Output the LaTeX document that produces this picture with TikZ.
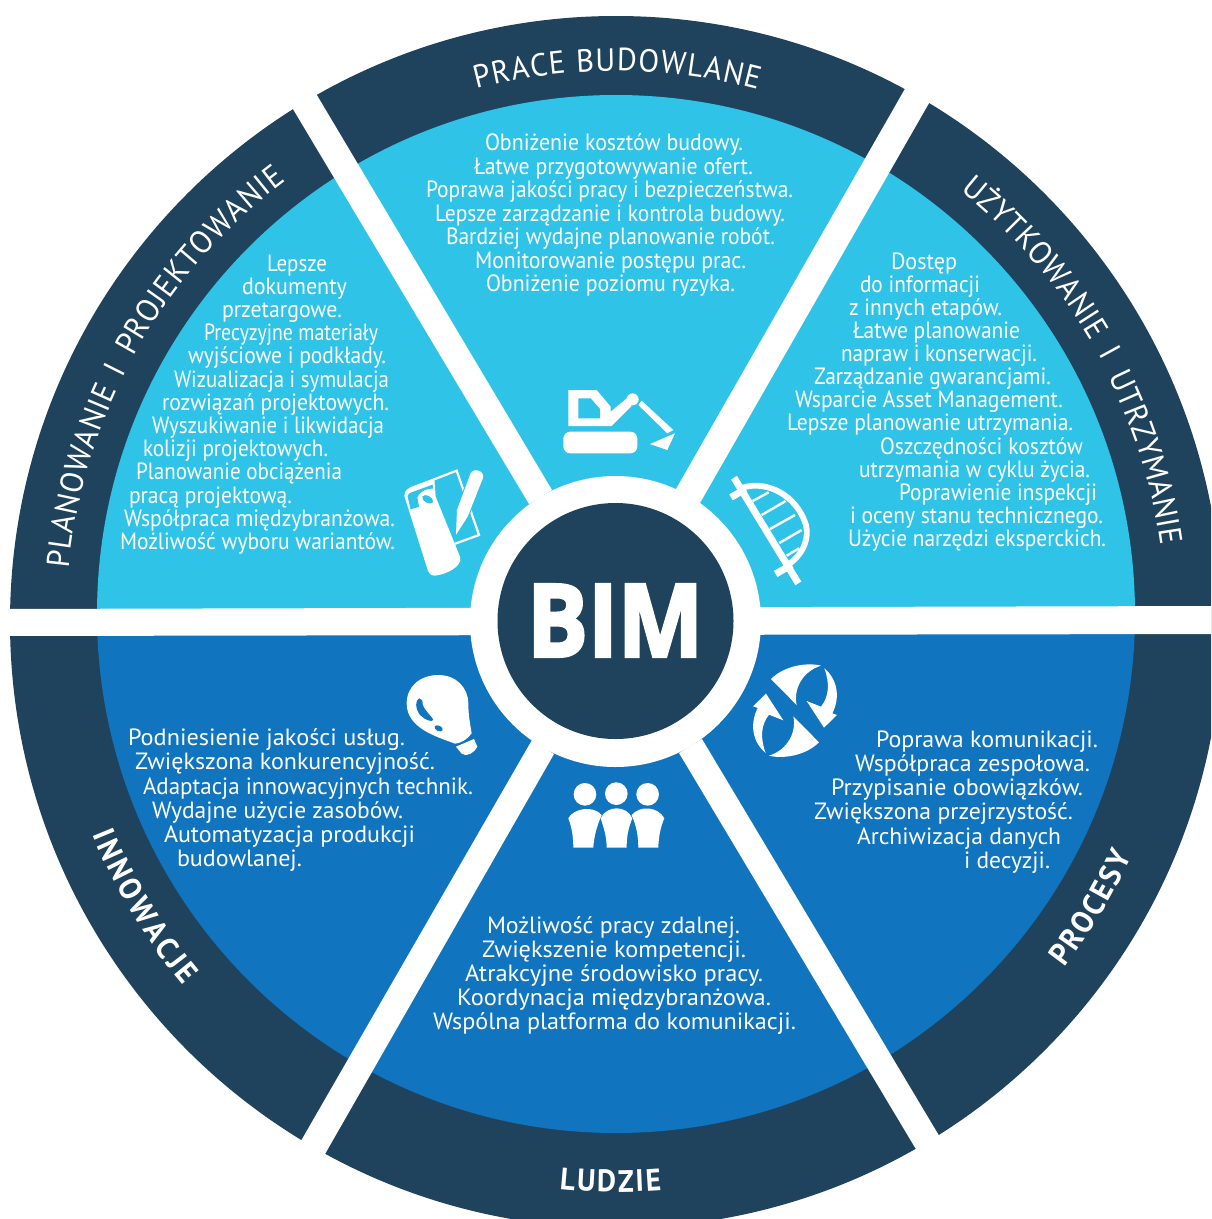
\documentclass[tikz,border=0pt]{standalone}
\usepackage{graphicx}
\usepackage{fontspec}
\setmainfont{PT Sans}
\newfontfamily\headfont[FakeStretch=0.95]{PT Sans}
\newfontfamily\bimfont[BoldFeatures={FakeBold=3}]{Open Sans}
\usetikzlibrary{decorations.text}
\definecolor{ringdark}{HTML}{1F435D}
\definecolor{skyblue}{HTML}{2FC3E8}
\definecolor{midblue}{HTML}{1075BE}
\newcommand\txtline[5]{\node[blocktext] (#1) at (#2,#4) {\resizebox{\dimexpr #3pt-#2pt\relax}{\height}{#5}};}
\newcommand\headarc[5]{\path[decorate,decoration={text along path,text={|#5|#4},text align=fit to path}] (#1:#3) arc[start angle=#1,end angle=#2,radius=#3];}
\newcommand\hreg{\fontsize{32}{36}\headfont\selectfont}
\newcommand\hbld{\fontsize{31}{34}\headfont\bfseries\selectfont}
\tikzset{
  blocktext/.style={anchor=base west,inner sep=0pt,outer sep=0pt,text=white,font=\fontsize{23.5}{25}\selectfont},
  iconframe/.style={shift={(#1)},x=0.3333pt,y=-0.3333pt},
  headletter/.style={anchor=base,inner sep=0pt,text=white,font=\hreg},
}
\begin{document}
\begin{tikzpicture}[x=1pt,y=-1pt]
\useasboundingbox (0,0) rectangle (1211,1219);
\fill[white] (0,0) rectangle (1211,1219);
\clip (0,0) rectangle (1211,1219);
% rings and sectors
\fill[ringdark] (616,622) circle[radius=606];
\begin{scope}
  \clip (0,0) rectangle (1211,620);
  \fill[skyblue] (616,614) circle[radius=519];
\end{scope}
\begin{scope}
  \clip (0,620) rectangle (1211,1219);
  \fill[midblue] (616,614) circle[radius=519];
\end{scope}
% white spokes
\fill[white] (-5,609) -- (1216,606) -- (1216,634) -- (-5,636) -- cycle;
\fill[white] (275,79) -- (529,504) -- (552,490) -- (299,65) -- cycle;
\fill[white] (922,59) -- (676,489) -- (700,503) -- (946,73.5) -- cycle;
\fill[white] (285,1168.6) -- (532,740) -- (554,754) -- (309,1182) -- cycle;
\fill[white] (956,1164) -- (702,739) -- (679,753) -- (932,1176) -- cycle;
% hub
\fill[white] (615.5,621.5) circle[radius=145.5];
\fill[ringdark] (615.5,621) circle[radius=118];
\node[inner sep=0pt,anchor=base west,text=white,font=\fontsize{103}{110}\bimfont\bfseries] (hub) at (527,656.5) {\resizebox{176pt}{72pt}{BIM}};
% curved headings
\begin{scope}[x=1pt,y=1pt,shift={(616pt,-622pt)}]
  \headarc{104.7}{75}{551}{PRACE BUDOWLANE}{\hreg\color{white}}
  \headarc{51.4}{30.6}{552}{UŻYTKOWANIE}{\hreg\color{white}}
  \node[headletter,rotate=-61.3] (ui) at (28.7:552) {I};
  \headarc{26.5}{8}{550}{UTRZYMANIE}{\hreg\color{white}}
  \headarc{174.4}{155}{550}{PLANOWANIE}{\hreg\color{white}}
  \node[headletter,rotate=63.3] (pi) at (153.3:550) {I};
  \headarc{151.2}{126.8}{551}{PROJEKTOWANIE}{\hreg\color{white}}
  \headarc{202.1}{220}{565}{INNOWACJE}{\hbld\color{white}}
  \headarc{264.3}{274.6}{570}{LUDZIE}{\hbld\color{white}}
  \headarc{-37.6}{-24.4}{566}{PROCESY}{\hbld\color{white}}
\end{scope}
% top block
\txtline{ta}{485}{743}{150.5}{Obniżenie kosztów budowy.}
\txtline{tb}{474}{753}{174}{Łatwe przygotowywanie ofert.}
\txtline{tc}{426}{793}{197.5}{Poprawa jakości pracy i bezpieczeństwa.}
\txtline{td}{435}{785}{221}{Lepsze zarządzanie i kontrola budowy.}
\txtline{te}{446}{775}{244.5}{Bardziej wydajne planowanie robót.}
\txtline{tf}{475}{746}{268}{Monitorowanie postępu prac.}
\txtline{tg}{486}{735}{291.5}{Obniżenie poziomu ryzyka.}
% left block
\txtline{la}{267}{327}{271.5}{Lepsze}
\txtline{lb}{242}{347}{294.7}{dokumenty}
\txtline{lc}{222}{342}{317.9}{przetargowe.}
\txtline{ld}{204}{378}{340.6}{Precyzyjne materiały}
\txtline{le}{188}{386}{363.8}{wyjściowe i podkłady.}
\txtline{lf}{174}{389}{387}{Wizualizacja i symulacja}
\txtline{lg}{162}{389}{410.2}{rozwiązań projektowych.}
\txtline{lh}{152}{384}{433.4}{Wyszukiwanie i likwidacja}
\txtline{li}{143}{328}{456.6}{kolizji projektowych.}
\txtline{lj}{136}{342}{479.8}{Planowanie obciążenia}
\txtline{lk}{129}{292}{503}{pracą projektową.}
\txtline{ll}{124}{395}{526.2}{Współpraca międzybranżowa.}
\txtline{lm}{120}{395}{549.4}{Możliwość wyboru wariantów.}
% right block
\txtline{ra}{891}{957}{269.2}{Dostęp}
\txtline{rb}{860}{980}{292.3}{do informacji}
\txtline{rc}{849}{1002}{315.4}{z innych etapów.}
\txtline{rd}{853}{1020}{338.5}{Łatwe planowanie}
\txtline{re}{841}{1037}{361.6}{napraw i konserwacji.}
\txtline{rf}{814}{1051}{384.7}{Zarządzanie gwarancjami.}
\txtline{rg}{795}{1063}{407.8}{Wsparcie Asset Management.}
\txtline{rh}{787}{1073}{430.9}{Lepsze planowanie utrzymania.}
\txtline{ri}{880}{1083}{454}{Oszczędności kosztów}
\txtline{rj}{859}{1090}{477.1}{utrzymania w cyklu życia.}
\txtline{rk}{899}{1097}{500.2}{Poprawienie inspekcji}
\txtline{rl}{850}{1103}{523.3}{i oceny stanu technicznego.}
\txtline{rm}{848}{1106}{546.5}{Użycie narzędzi eksperckich.}
% lower left block
\txtline{ia}{128}{405}{745}{Podniesienie jakości usług.}
\txtline{ib}{135}{435}{769.5}{Zwiększona konkurencyjność.}
\txtline{ic}{143}{473}{794}{Adaptacja innowacyjnych technik.}
\txtline{id}{152}{403}{818}{Wydajne użycie zasobów.}
\txtline{ie}{164}{415}{842}{Automatyzacja produkcji}
\txtline{if}{177}{302}{866.4}{budowlanej.}
% lower right block
\txtline{pa}{876}{1098}{747}{Poprawa komunikacji.}
\txtline{pb}{855}{1090}{771}{Współpraca zespołowa.}
\txtline{pc}{831}{1083}{795}{Przypisanie obowiązków.}
\txtline{pd}{814}{1073}{819}{Zwiększona przejrzystość.}
\txtline{pe}{857}{1061}{844}{Archiwizacja danych}
\txtline{pf}{964}{1050}{868}{i decyzji.}
% bottom block
\txtline{ba}{487}{740}{933}{Możliwość pracy zdalnej.}
\txtline{bb}{482}{746}{957}{Zwiększenie kompetencji.}
\txtline{bc}{465}{763}{981}{Atrakcyjne środowisko pracy.}
\txtline{bd}{457}{771}{1005}{Koordynacja międzybranżowa.}
\txtline{be}{433}{796}{1029}{Wspólna platforma do komunikacji.}
% excavator
\begin{scope}[iconframe={380pt,-370pt}]
  \fill[white] (565,60) -- (650,60) -- (692,110) -- (692,125) -- (740,85) -- (755,108) -- (695,168) -- (565,168) -- cycle;
  \fill[skyblue] (595,85) -- (632,85) -- (660,117) -- (660,145) -- (595,145) -- cycle;
  \fill[white] (758,88) circle[radius=18];
  \fill[white] (775,105) -- (785,92) -- (880,180) -- (862,190) -- cycle;
  \fill[white] (885,190) -- (810,222) -- (862,240) -- cycle;
  \fill[white,rounded corners=7pt] (550,185) rectangle (772,250);
\end{scope}
% plan roll and pen
\begin{scope}[iconframe={395pt,-460pt}]
  \draw[white,line width=2.2pt] (60,80) -- (185,32) -- (252,225) -- (178,252);
  \fill[white] (28,108) .. controls (28,90) and (40,85) .. (50,80) -- (118,57) -- (122,110) -- (195,290) .. controls (205,320) and (150,345) .. (118,347) .. controls (105,347) and (98,335) .. (95,320) -- cycle;
  \fill[skyblue] (38,110) .. controls (40,100) and (45,98) .. (50,97) -- (113,74) -- (114,86) .. controls (90,85) and (70,100) .. (67,112) -- (72,140) -- (47,148) -- cycle;
  \fill[skyblue,rotate around={-30:(98,118)}] (98,118) ellipse[x radius=18,y radius=10];
  \draw[skyblue,line width=2.2pt] (226,42) .. controls (232,22) and (270,30) .. (264,54) -- (218,170) -- (183,224) -- (186,150) -- cycle;
  \fill[white] (226,42) .. controls (232,22) and (270,30) .. (264,54) -- (218,170) -- (183,224) -- (186,150) -- cycle;
\end{scope}
% bridge
\begin{scope}[iconframe={720pt,-465pt}]
  \draw[white,line width=2.4pt] (98,108) -- (146,82);
  \draw[white,line width=2.4pt] (125,150) -- (197,108);
  \draw[white,line width=2.4pt] (150,192) -- (225,150);
  \draw[white,line width=2.4pt] (178,234) -- (245,195);
  \draw[white,line width=2.4pt] (200,272) -- (237,250);
  \draw[white,line width=5.8pt] (68,68) .. controls (140,45) and (230,90) .. (258,180) .. controls (270,235) and (235,280) .. (203,300);
  \draw[white,line width=7pt] (42,38) -- (235,355);
  \draw[white,line width=7pt] (33,97) -- (77,72);
  \draw[white,line width=7pt] (167,327) -- (215,299);
\end{scope}
% cycle arrows
\begin{scope}[iconframe={745pt,-655pt}]
  \fill[white] (78,72) .. controls (120,30) and (190,22) .. (228,32) .. controls (170,50) and (145,105) .. (155,150) -- cycle;
  \fill[white] (238,40) .. controls (280,75) and (285,130) .. (262,175) -- (276,180) -- (237,218) -- (185,138) -- (228,155) .. controls (252,125) and (255,85) .. cycle;
  \fill[white] (222,262) .. controls (180,304) and (110,312) .. (72,302) .. controls (130,284) and (155,229) .. (145,184) -- cycle;
  \fill[white] (62,294) .. controls (20,259) and (15,204) .. (38,159) -- (24,154) -- (63,116) -- (115,196) -- (72,179) .. controls (48,209) and (45,249) .. cycle;
\end{scope}
% bulb
\begin{scope}[iconframe={400pt,-665pt}]
  \fill[white] (165,236) .. controls (110,215) and (20,190) .. (20,115) .. controls (20,65) and (60,30) .. (115,30) .. controls (170,30) and (205,70) .. (205,115) .. controls (205,150) and (210,175) .. (215,205) .. controls (200,225) and (180,235) .. (165,236) -- cycle;
  \fill[white] (168,245) -- (222,222) -- (232,245) .. controls (225,262) and (200,278) .. (185,266) -- cycle;
  \fill[midblue] (58,100) .. controls (45,105) and (45,130) .. (60,150) .. controls (75,165) and (95,172) .. (100,165) .. controls (100,158) and (75,140) .. (68,118) .. controls (68,108) and (66,100) .. (58,100) -- cycle;
  \fill[midblue,rotate around={-25:(116,190)}] (116,190) ellipse[x radius=13,y radius=8];
\end{scope}
% people
\begin{scope}[iconframe={380pt,-640pt}]
  \fill[white] (615,463) circle[radius=34];
  \fill[white] (709,461) circle[radius=34];
  \fill[white] (803,463) circle[radius=34];
  \fill[white] (565,535) .. controls (580,505) and (640,495) .. (665,525) .. controls (650,560) and (642,590) .. (640,623) -- (580,623) .. controls (580,590) and (575,560) .. cycle;
  \fill[white] (662,535) .. controls (680,495) and (740,495) .. (757,535) .. controls (745,565) and (740,590) .. (740,623) -- (680,623) .. controls (680,590) and (672,565) .. cycle;
  \fill[white] (755,525) .. controls (780,495) and (835,500) .. (853,535) .. controls (842,560) and (836,590) .. (835,623) -- (775,623) .. controls (775,590) and (770,560) .. cycle;
\end{scope}
\end{tikzpicture}
\end{document}
